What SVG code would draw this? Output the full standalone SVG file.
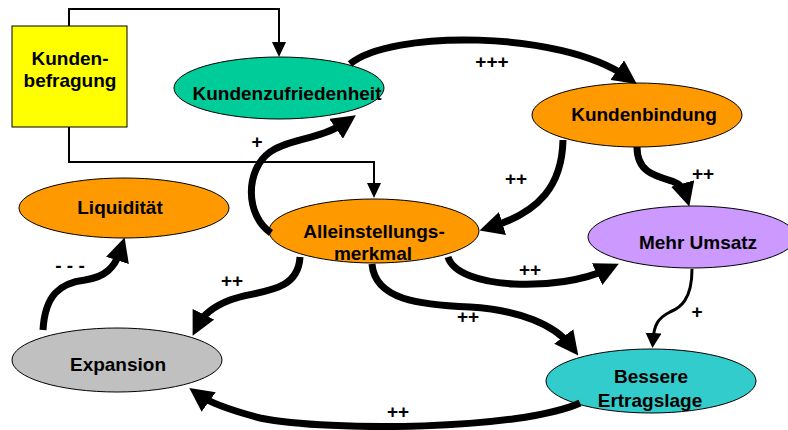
<svg xmlns="http://www.w3.org/2000/svg" width="788" height="430" viewBox="0 0 788 430">
<style>
.n{stroke:#000;stroke-width:1}
.t{font-family:"Liberation Sans",Arial,sans-serif;font-weight:bold;font-size:19px;fill:#000;text-anchor:middle}
.c{fill:none;stroke:#000;stroke-width:7}
.cs{fill:none;stroke:#000;stroke-width:3}
.ct{fill:none;stroke:#000;stroke-width:2}
</style>
<defs>
<marker id="big" viewBox="0 0 24 24" refX="12" refY="12" markerUnits="userSpaceOnUse" markerWidth="24" markerHeight="24" orient="auto"><path d="M0,0 L24,12 L0,24 z" fill="#000"/></marker>
<marker id="mid" viewBox="0 0 15 16" refX="7" refY="8" markerUnits="userSpaceOnUse" markerWidth="15" markerHeight="16" orient="auto"><path d="M0,0 L15,8 L0,16 z" fill="#000"/></marker>
<marker id="small" viewBox="0 0 15 14" refX="12" refY="7" markerUnits="userSpaceOnUse" markerWidth="15" markerHeight="14" orient="auto"><path d="M0,0 L15,7 L0,14 z" fill="#000"/></marker>
</defs>
<rect width="788" height="430" fill="#fff"/>
<g id="kundenbefragung">
<rect class="n" x="12" y="26" width="115" height="101" fill="#FFFF00"/>
<text class="t" x="70" y="65">Kunden-</text>
<text class="t" x="70" y="87">befragung</text>
</g>
<g id="kundenzufriedenheit">
<ellipse class="n" cx="279" cy="88" rx="105" ry="31" fill="#00CC99"/>
<text class="t" x="287" y="100">Kundenzufriedenheit</text>
</g>
<g id="kundenbindung">
<ellipse class="n" cx="637" cy="115" rx="105" ry="32" fill="#FF9900"/>
<text class="t" x="644" y="121">Kundenbindung</text>
</g>
<g id="liquiditaet">
<ellipse class="n" cx="124" cy="208" rx="105" ry="30" fill="#FF9900"/>
<text class="t" x="120" y="214">Liquidität</text>
</g>
<g id="alleinstellungsmerkmal">
<ellipse class="n" cx="374" cy="231" rx="105" ry="32" fill="#FF9900"/>
<text class="t" x="374" y="238">Alleinstellungs-</text>
<text class="t" x="373" y="260">merkmal</text>
</g>
<g id="mehrumsatz">
<ellipse class="n" cx="692" cy="237" rx="104" ry="31" fill="#CC99FF"/>
<text class="t" x="698" y="249">Mehr Umsatz</text>
</g>
<g id="expansion">
<ellipse class="n" cx="117" cy="360" rx="105" ry="32" fill="#C0C0C0"/>
<text class="t" x="118" y="371">Expansion</text>
</g>
<g id="ertragslage">
<ellipse class="n" cx="651" cy="381" rx="105" ry="32" fill="#33CCCC"/>
<text class="t" x="651" y="383">Bessere</text>
<text class="t" x="650" y="407">Ertragslage</text>
</g>
<g id="connectors">
<path class="ct" d="M69,26 L69,9 L279,9 L279,54" marker-end="url(#small)"/>
<path class="ct" d="M69,127 L69,162 L374,162 L374,195" marker-end="url(#small)"/>
<path class="c" d="M350,64 C390,30 560,30 627,77" marker-end="url(#big)"/>
<path class="c" d="M563,140 C562,185 540,212 491,227" marker-end="url(#big)"/>
<path class="c" d="M637,147 C637,172 655,176 672,181 C680,184 684,188 686,195" marker-end="url(#big)"/>
<path class="c" d="M271,233 C245,215 245,170 270,152 C290,138 320,140 346,122" marker-end="url(#big)"/>
<path class="c" d="M448,257 C458,290 560,292 608,269" marker-end="url(#big)"/>
<path class="c" d="M372,264 C375,300 420,305 470,307 C520,310 555,325 571,346" marker-end="url(#big)"/>
<path class="c" d="M300,257 C298,295 255,290 230,300 C212,307 203,315 198,325" marker-end="url(#big)"/>
<path class="c" d="M43,330 C45,295 60,283 85,280 C105,277 115,268 121,249" marker-end="url(#big)"/>
<path class="cs" d="M692,269 C692,300 680,308 670,312 C658,318 654,325 653,340" marker-end="url(#mid)"/>
<path class="c" d="M580,403 C520,430 330,432 260,418 C230,410 210,403 199,395" marker-end="url(#big)"/>
<text class="t" x="492" y="68">+++</text>
<text class="t" x="516" y="185">++</text>
<text class="t" x="703" y="180">++</text>
<text class="t" x="257" y="148">+</text>
<text class="t" x="530" y="276">++</text>
<text class="t" x="468" y="323">++</text>
<text class="t" x="232" y="287">++</text>
<text class="t" x="70" y="272">- - -</text>
<text class="t" x="697" y="318">+</text>
<text class="t" x="398" y="418">++</text>
</g>
</svg>
